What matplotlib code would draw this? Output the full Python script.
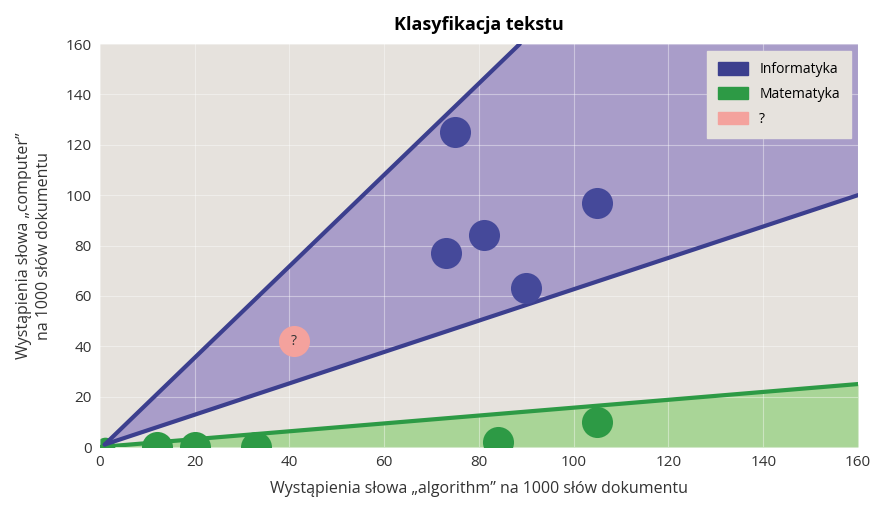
import matplotlib.pyplot as plt
import numpy as np
from matplotlib.patches import Patch

plt.rcParams['font.family'] = ['Open Sans', 'DejaVu Sans']

# boundary lines (x, y endpoints)
upper_x = [1, 88.6]
upper_y = [1, 160]
lower_x = [1, 160]
lower_y = [1, 100]
green_x = [0, 160]
green_y = [0, 25]

info_x = [75, 73, 81, 90, 105]
info_y = [125, 77, 84, 63, 97]
mat_x = [12, 20, 33, 84, 105]
mat_y = [0, 0, 0, 2, 10]
hidden_x = [1]   # green point half hidden under the wedge
hidden_y = [0]
q_x = [41]
q_y = [42]

ticks = [0, 20, 40, 60, 80, 100, 120, 140, 160]

blue = '#3c3f8e'
dot_blue = '#45499a'
purple = '#a99dc9'
green = '#2d9a45'
lgreen = '#a9d597'
pink = '#f4a29d'
bg = '#e6e2dd'

fig = plt.figure(figsize=(8.78, 5.07), dpi=100)
ax = fig.add_axes([0.1139, 0.1183, 0.8633, 0.7949])
ax.set_facecolor(bg)

# green area
ax.fill_between(green_x, 0, green_y, color=lgreen, zorder=1, lw=0)
ax.scatter(hidden_x, hidden_y, s=200, color=green, zorder=1.2, lw=0)
# purple wedge
px = [upper_x[0], upper_x[1], 160, lower_x[1], lower_x[0]]
py = [upper_y[0], upper_y[1], 160, lower_y[1], lower_y[0]]
ax.fill(px, py, color=purple, zorder=1.5, lw=0)

ax.grid(True, color='white', alpha=0.4, lw=0.8, zorder=2)
ax.set_axisbelow(False)

ax.plot(green_x, green_y, color=green, lw=3, zorder=3)
ax.plot(upper_x, upper_y, color=blue, lw=3, zorder=3, solid_capstyle='round')
ax.plot(lower_x, lower_y, color=blue, lw=3, zorder=3, solid_capstyle='round')

ax.scatter(info_x, info_y, s=500, color=dot_blue, zorder=4, lw=0)
ax.scatter(mat_x, mat_y, s=500, color=green, zorder=4, lw=0)
ax.scatter(q_x, q_y, s=500, color=pink, zorder=4, lw=0)
for x, y in zip(q_x, q_y):
    ax.text(x, y, '?', ha='center', va='center', fontsize=10, color='#333333', zorder=5)

ax.set_xlim(0, 160)
ax.set_ylim(0, 160)
ax.set_xticks(ticks)
ax.set_yticks(ticks)
ax.tick_params(length=0, labelsize=11, colors='#333333', pad=6)
for s in ax.spines.values():
    s.set_visible(False)

ax.set_xlabel('Wystąpienia słowa „algorithm” na 1000 słów dokumentu', fontsize=11.5, color='#333333', labelpad=8)
ax.set_ylabel('Wystąpienia słowa „computer”\nna 1000 słów dokumentu', fontsize=11.5, color='#333333',
              labelpad=10, linespacing=1.3)
ax.set_title('Klasyfikacja tekstu', fontsize=13, fontweight='bold', pad=10)

handles = [Patch(color=blue, label='Informatyka'),
           Patch(color=green, label='Matematyka'),
           Patch(color=pink, label='?')]
leg = ax.legend(handles=handles, loc='upper right', fontsize=10, frameon=True,
                facecolor=bg, edgecolor=bg, framealpha=1, fancybox=False,
                handlelength=2.2, handleheight=1.0, borderpad=0.8, labelspacing=0.7)
leg.set_zorder(6)

fig.savefig('out.png', dpi=100)
